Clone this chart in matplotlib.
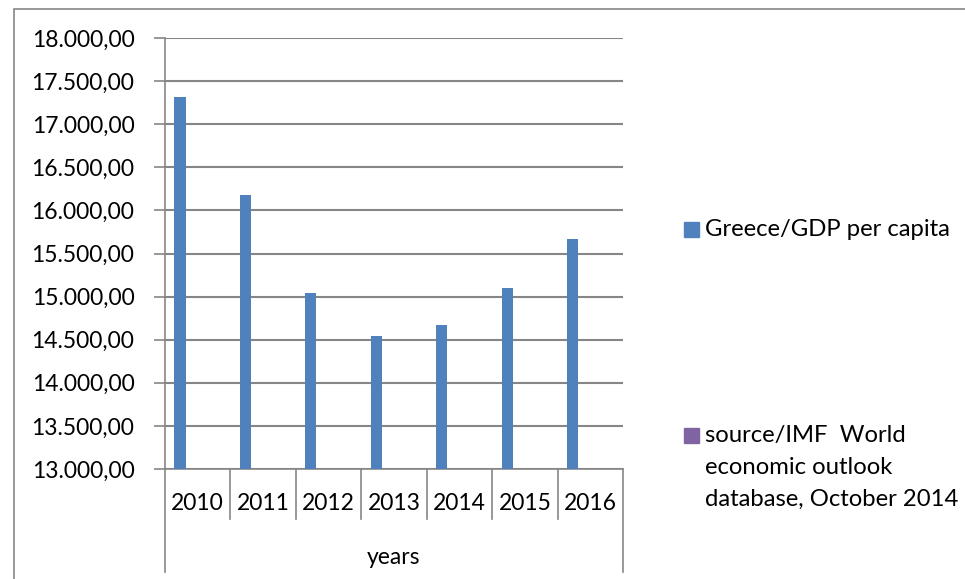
import numpy as np
import matplotlib.pyplot as plt
from matplotlib.patches import Rectangle
from matplotlib.ticker import FuncFormatter
import matplotlib.transforms as mtransforms

plt.rcParams['font.family'] = ['Lato', 'DejaVu Sans']

years = ['2010', '2011', '2012', '2013', '2014', '2015', '2016']
gdp_per_capita = [17315, 16175, 15045, 14548, 14665, 15098, 15672]
source_values = [np.nan] * 7

series_name = 'Greece/GDP per capita'
source_name = 'source/IMF  World\neconomic outlook\ndatabase, October 2014'
axis_title = 'years'

blue = '#4F81BD'
purple = '#8064A2'
grey = '#868686'
fs = 16.5
leg_fs = 17.2

W, H = 965, 579
fig = plt.figure(figsize=(W / 100, H / 100), dpi=100)

# outer chart border (cut off at right/bottom like the reference)
fig.patches.append(Rectangle((14 / W, -0.05), 1.1, (H - 9) / H + 0.05,
                             transform=fig.transFigure, fill=False,
                             edgecolor=grey, linewidth=1.2))

ax = fig.add_axes([165 / W, (H - 469) / H, (623 - 165) / W, (469 - 38) / H])

x = np.arange(len(years))
ax.bar(x - 0.27, gdp_per_capita, width=0.17, color=blue, label=series_name, zorder=3)
ax.bar(x - 0.1, source_values, width=0.17, color=purple, label=source_name, zorder=3)

ax.set_xlim(-0.5, len(years) - 0.5)
ax.set_ylim(13000, 18000)
ax.set_yticks(np.arange(13000, 18001, 500))


def euro_fmt(v, pos):
    s = f'{v:,.2f}'
    return s.replace(',', 'X').replace('.', ',').replace('X', '.')


ax.yaxis.set_major_formatter(FuncFormatter(euro_fmt))
ax.tick_params(axis='y', length=8, color=grey, width=1.2, pad=14, labelsize=fs)
ax.set_xticks([])
ax.grid(axis='y', color=grey, linewidth=1.5, zorder=0)

for side in ['top', 'right']:
    ax.spines[side].set_visible(False)
for side in ['left', 'bottom']:
    ax.spines[side].set_color(grey)
    ax.spines[side].set_linewidth(1.2)

# category axis: year labels in boxes and the grouping label
trans = mtransforms.blended_transform_factory(ax.transData, ax.transAxes)
for i, yr in enumerate(years):
    ax.text(i, -0.079, yr, transform=trans, ha='center', va='center',
            fontsize=fs, clip_on=False)
for b in np.arange(0.5, len(years) - 1, 1.0):
    ax.plot([b, b], [0, -0.116], transform=trans, color=grey,
            linewidth=1.2, clip_on=False)
for b in [-0.5, len(years) - 0.5]:
    ax.plot([b, b], [0, -0.239], transform=trans, color=grey,
            linewidth=1.2, clip_on=False)
ax.text((len(years) - 1) / 2, -0.205, axis_title, transform=trans,
        ha='center', va='center', fontsize=fs, clip_on=False)

# legend entries placed like the original
handles, labels = ax.get_legend_handles_labels()
leg_pos = [(684 / W, (H - 229) / H), (684 / W, (H - 435) / H)]
for (lx, ly), lab, col in zip(leg_pos, labels, [blue, purple]):
    fig.patches.append(Rectangle((lx, ly - 8 / H), 15 / W, 15 / H,
                                 transform=fig.transFigure, color=col))
    if '\n' in lab:
        fig.text(lx + 21 / W, ly + 10 / H, lab, fontsize=leg_fs, va='top',
                 linespacing=1.65)
    else:
        fig.text(lx + 21 / W, ly, lab, fontsize=leg_fs, va='center')

fig.savefig('out.png', dpi=100)
